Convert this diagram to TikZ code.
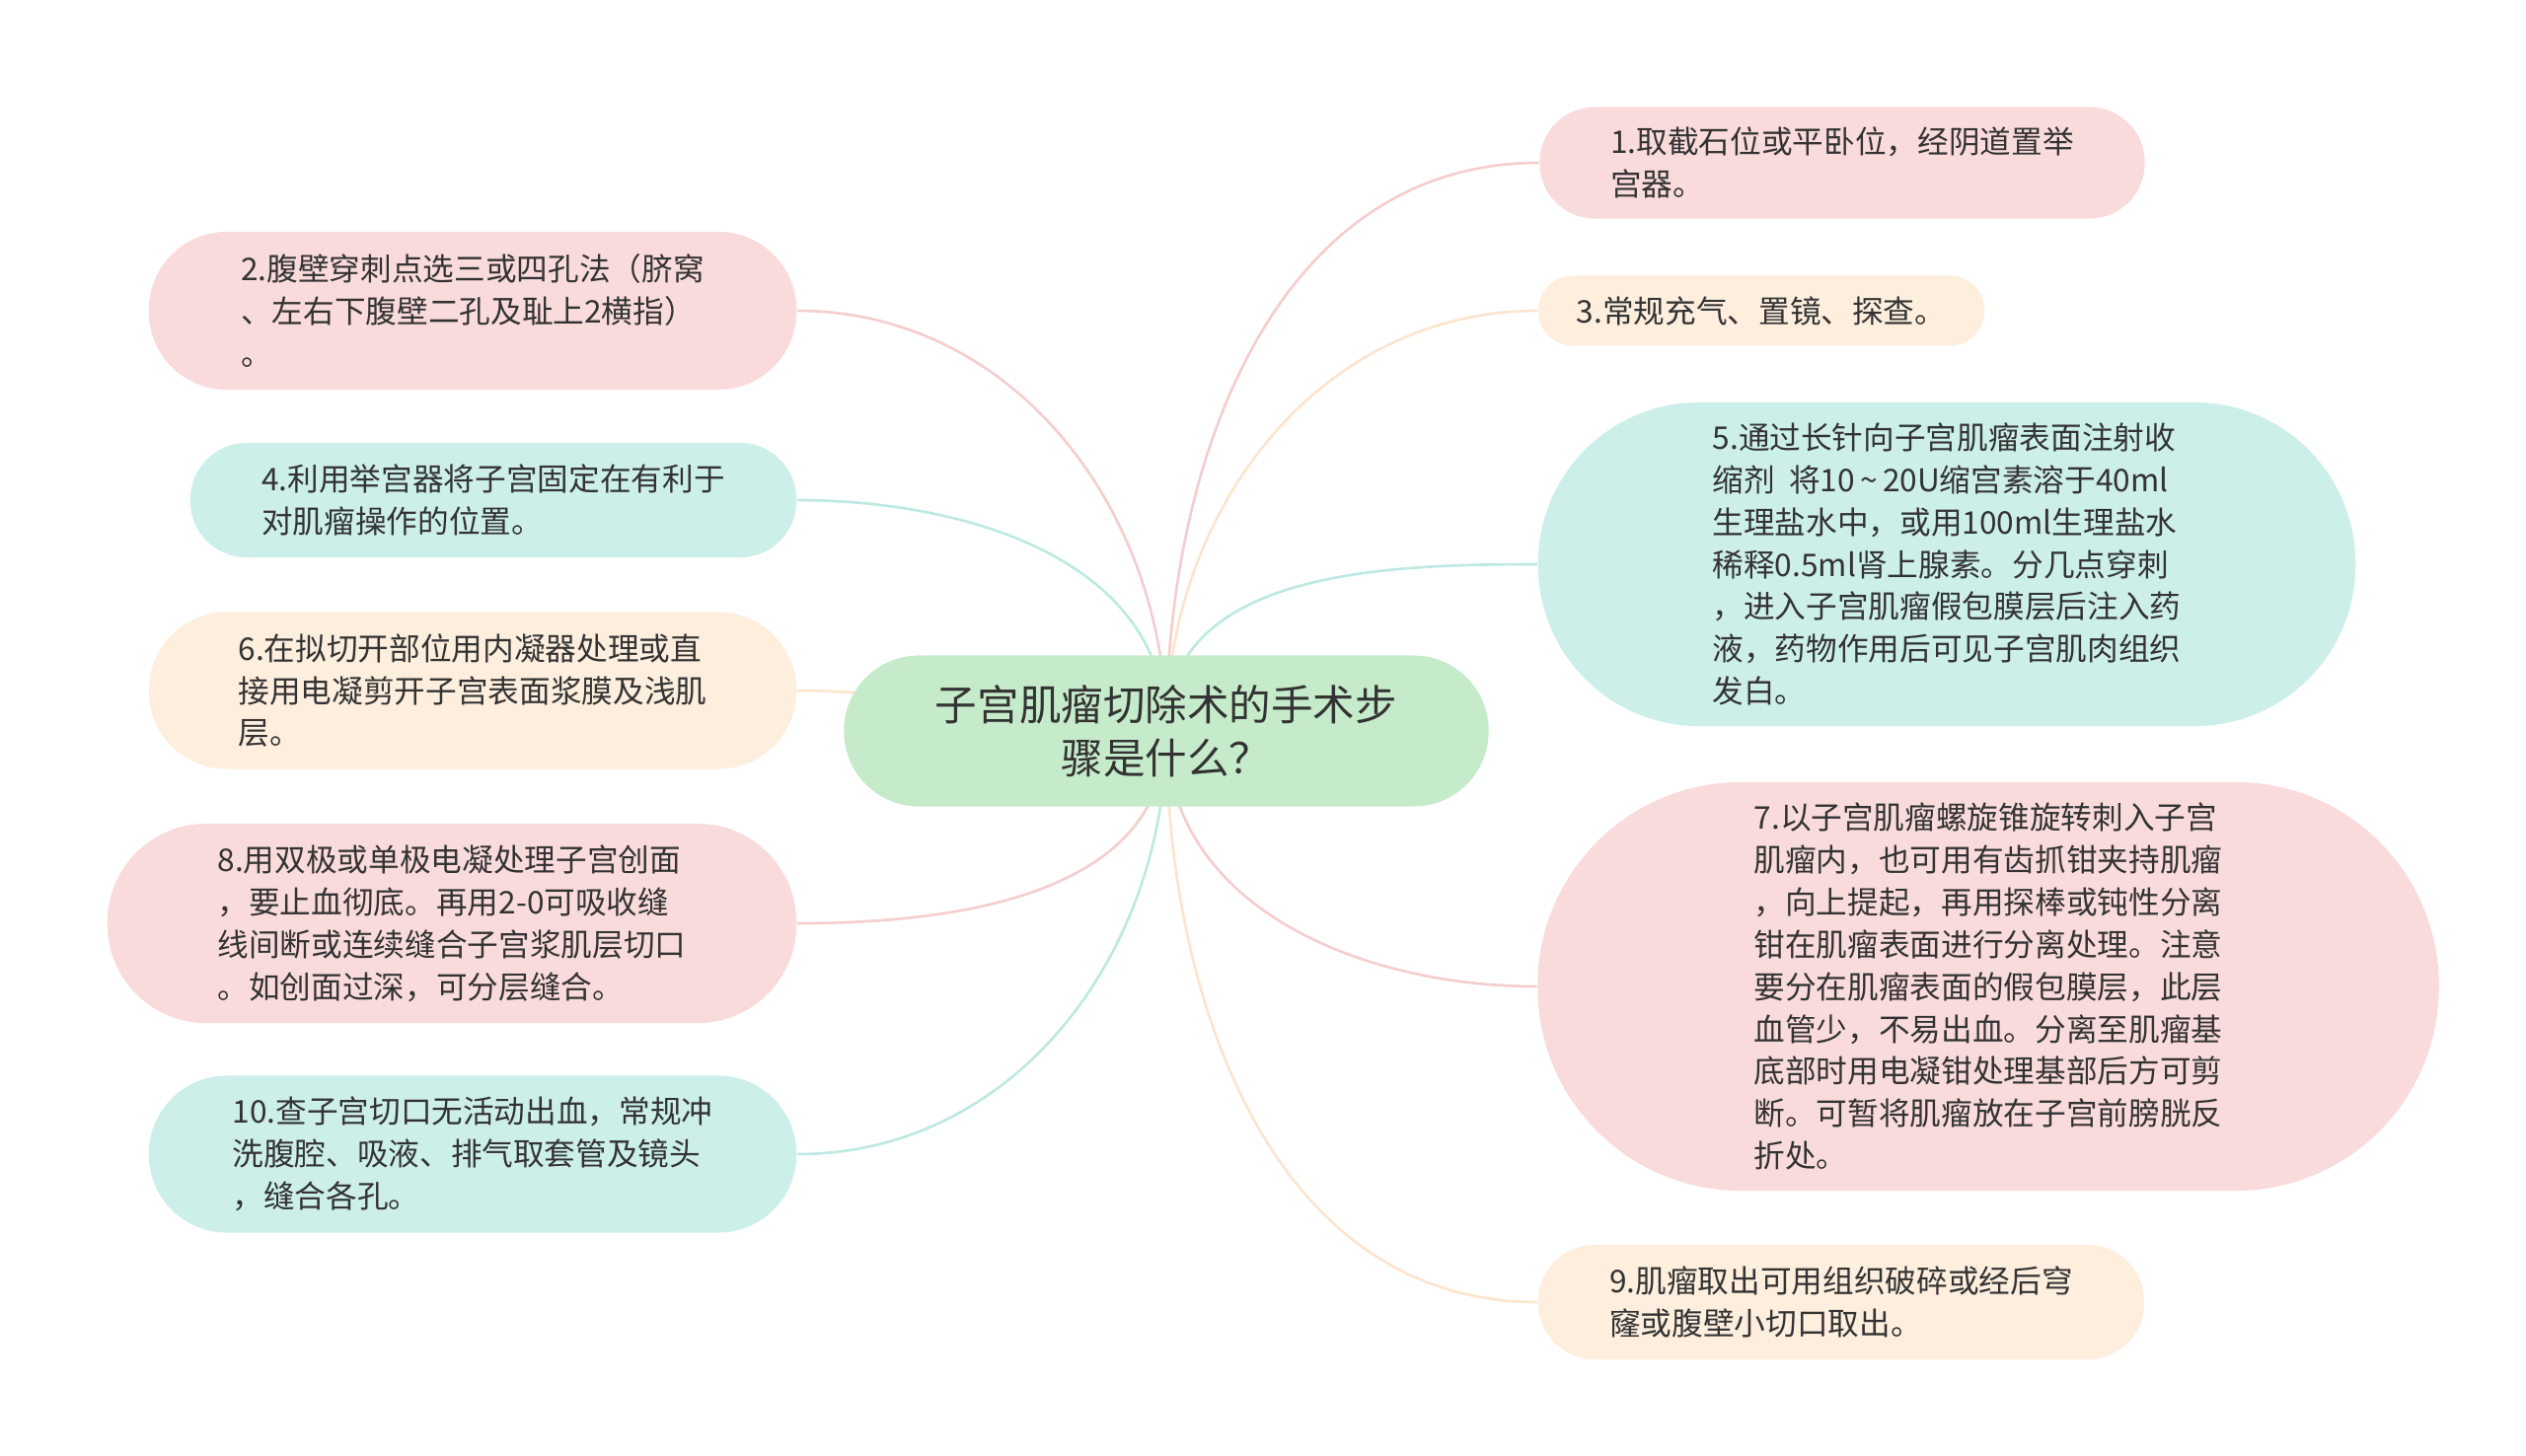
\documentclass[tikz,border=0pt]{standalone}
\usepackage{fontspec}
\setmainfont{Noto Sans CJK SC}
\usetikzlibrary{backgrounds}

\definecolor{pinkfill}{HTML}{FADBDB}
\definecolor{pinkline}{HTML}{F5CDCE}
\definecolor{tealfill}{HTML}{CDEFE9}
\definecolor{tealline}{HTML}{BDE9E2}
\definecolor{peachfill}{HTML}{FDEEDD}
\definecolor{peachline}{HTML}{FBE5CE}
\definecolor{rootfill}{HTML}{C6EBCA}
\definecolor{inktext}{HTML}{333333}

\tikzset{
  leaf/.style={fill=#1fill, inner sep=0pt, align=left, text=inktext,
    font=\fontsize{9}{12.2}\selectfont},
  branch/.style={draw=#1line, line width=0.75pt},
}

\begin{document}
\begin{tikzpicture}[x=0.01cm, y=0.01cm]
        \useasboundingbox (0,0) rectangle (2560,-1475);
        % 中心
        \node[fill=rootfill, inner sep=0pt, align=center, text=inktext,
          font=\fontsize{12.1}{15.4}\selectfont,
          minimum width=6.53cm, minimum height=1.53cm, rounded corners=0.76cm]
          (C) at (1182,-741) {子宫肌瘤切除术的手术步\\骤是什么？};
        % 右侧
        \node[leaf=pink, minimum width=6.13cm, minimum height=1.13cm, rounded corners=0.56cm]
          (S1) at (1867,-165) {1.取截石位或平卧位，经阴道置举\\宫器。};
        \node[leaf=peach, minimum width=4.52cm, minimum height=0.71cm, rounded corners=0.35cm]
          (S3) at (1785,-315) {3.常规充气、置镜、探查。};
        \node[leaf=teal, minimum width=8.28cm, minimum height=3.28cm, rounded corners=1.63cm]
          (S5) at (1973,-572) {5.通过长针向子宫肌瘤表面注射收\\缩剂\ \ 将10\,\textasciitilde\,20U缩宫素溶于40ml\\生理盐水中，或用100ml生理盐水\\稀释0.5ml肾上腺素。分几点穿刺\\，进入子宫肌瘤假包膜层后注入药\\液，药物作用后可见子宫肌肉组织\\发白。};
        \node[leaf=pink, minimum width=9.13cm, minimum height=4.14cm, rounded corners=2.06cm]
          (S7) at (2015,-1000) {7.以子宫肌瘤螺旋锥旋转刺入子宫\\肌瘤内，也可用有齿抓钳夹持肌瘤\\，向上提起，再用探棒或钝性分离\\钳在肌瘤表面进行分离处理。注意\\要分在肌瘤表面的假包膜层，此层\\血管少，不易出血。分离至肌瘤基\\底部时用电凝钳处理基部后方可剪\\断。可暂将肌瘤放在子宫前膀胱反\\折处。};
        \node[leaf=peach, minimum width=6.14cm, minimum height=1.16cm, rounded corners=0.57cm]
          (S9) at (1866,-1320) {9.肌瘤取出可用组织破碎或经后穹\\窿或腹壁小切口取出。};
        % 左侧
        \node[leaf=pink, minimum width=6.56cm, minimum height=1.60cm, rounded corners=0.79cm]
          (S2) at (479,-315) {2.腹壁穿刺点选三或四孔法（脐窝\\、左右下腹壁二孔及耻上2横指）\\。};
        \node[leaf=teal, minimum width=6.14cm, minimum height=1.16cm, rounded corners=0.57cm]
          (S4) at (500,-507) {4.利用举宫器将子宫固定在有利于\\对肌瘤操作的位置。};
        \node[leaf=peach, minimum width=6.56cm, minimum height=1.59cm, rounded corners=0.79cm]
          (S6) at (479,-700) {6.在拟切开部位用内凝器处理或直\\接用电凝剪开子宫表面浆膜及浅肌\\层。};
        \node[leaf=pink, minimum width=6.98cm, minimum height=2.02cm, rounded corners=1.00cm]
          (S8) at (458,-936) {8.用双极或单极电凝处理子宫创面\\，要止血彻底。再用2-0可吸收缝\\线间断或连续缝合子宫浆肌层切口\\。如创面过深，可分层缝合。};
        \node[leaf=teal, minimum width=6.56cm, minimum height=1.59cm, rounded corners=0.79cm]
          (S10) at (479,-1170) {10.查子宫切口无活动出血，常规冲\\洗腹腔、吸液、排气取套管及镜头\\，缝合各孔。};
        % 连线
        \begin{scope}[on background layer]
          \draw[branch=pink] (C.center) to[out=90,in=180] (S1.west);
          \draw[branch=peach] (C.center) to[out=90,in=180] (S3.west);
          \draw[branch=teal] (C.center) to[out=90,in=180] (S5.west);
          \draw[branch=pink] (C.center) to[out=-90,in=180] (S7.west);
          \draw[branch=peach] (C.center) to[out=-90,in=180] (S9.west);
          \draw[branch=pink] (C.center) to[out=90,in=0] (S2.east);
          \draw[branch=teal] (C.center) to[out=90,in=0] (S4.east);
          \draw[branch=peach] (C.center) to[out=180,in=0] (S6.east);
          \draw[branch=pink] (C.center) to[out=-90,in=0] (S8.east);
          \draw[branch=teal] (C.center) to[out=-90,in=0] (S10.east);
        \end{scope}
\end{tikzpicture}
\end{document}
